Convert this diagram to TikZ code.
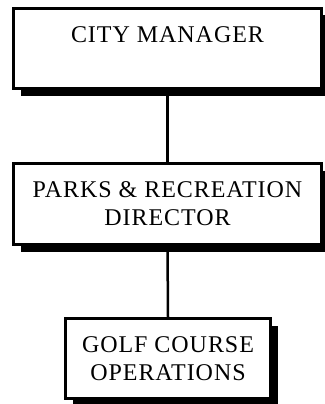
\documentclass[tikz,border=0pt]{standalone}
\usepackage{fontspec}
\setmainfont{Liberation Serif}
\usetikzlibrary{shadows}
\begin{document}
\begin{tikzpicture}[x=1pt,y=-1pt,
  box/.style={draw=black, fill=white, line width=3pt, rectangle, inner sep=0pt,
    align=center, font=\fontsize{24}{28}\selectfont\addfontfeature{LetterSpace=4},
    general shadow={fill=black, shadow xshift=7pt, shadow yshift=-7pt}},
  link/.style={line width=2.5pt}]
\useasboundingbox (0,0) rectangle (324,404);
\node[box, minimum width=308pt, minimum height=80pt, text height=16pt, text depth=27pt] (b1) at (167.5,48.5) {CITY MANAGER};
\node[box, minimum width=308pt, minimum height=81pt] (b2) at (167.5,204) {PARKS \& RECREATION\\DIRECTOR};
\node[box, minimum width=205pt, minimum height=80pt] (b3) at (168,358.5) {GOLF COURSE\\OPERATIONS};
\draw[link] (b1.south) -- (b2.north);
\draw[link] (b2.south) -- (b3.north);
\end{tikzpicture}
\end{document}
